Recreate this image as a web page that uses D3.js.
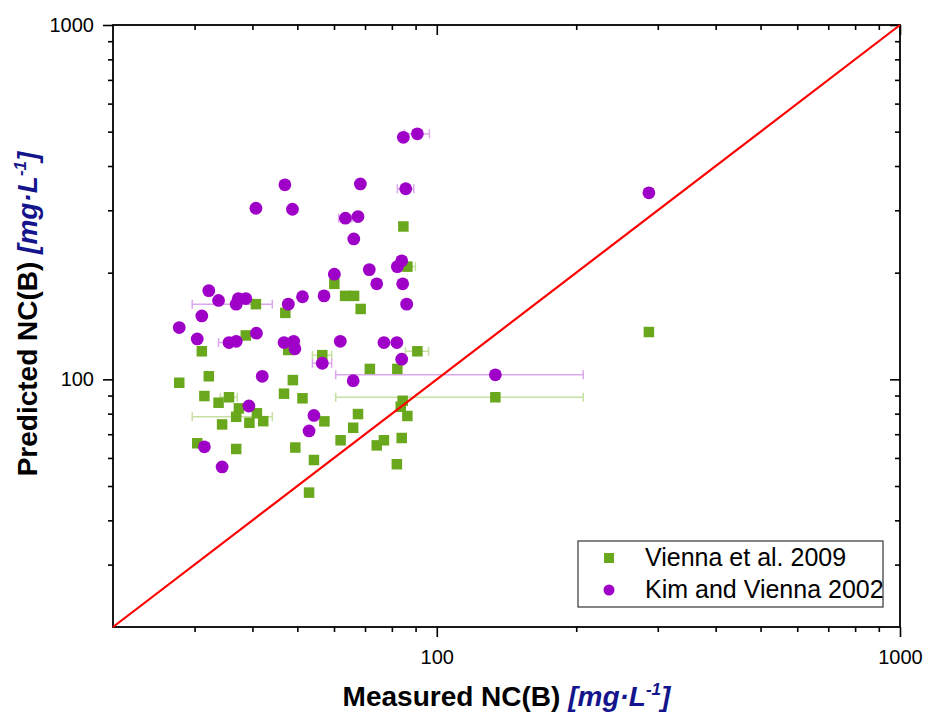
<!DOCTYPE html>
<html>
<head>
<meta charset="utf-8">
<script src="https://cdn.jsdelivr.net/npm/d3@7"></script>
<style>
  body { margin: 0; background: #fff; }
  svg { display: block; font-family: "Liberation Sans", Arial, sans-serif; }
</style>
</head>
<body>
<svg id="chart" width="927" height="713"></svg>
<script>
// Vienna et al. 2009: measured vs predicted NC(B), mg/L
const viennaMeasured = [40.7, 47.1, 31.1, 38.7, 47.8, 27.8, 32.2, 48.9, 46.8, 51.3, 31.5, 33.8, 35.6, 37.4, 36.9, 40.9,
  34.4, 39.4, 42.2, 30.4, 36.9, 49.5, 54.3, 60.1, 63.4, 66.3, 68.5, 90.8, 56.6, 71.7, 82.2, 84.4, 83.6, 86.4, 57.2,
  67.6, 66.0, 62.0, 76.9, 74.2, 84.0, 82.0, 53.0, 84.7, 86.4, 133.8, 287];
const viennaPredicted = [163, 154, 120, 133, 121, 97.8, 102, 99.5, 91.1, 88.4, 89.7, 85.9, 89.0, 82.8, 78.4, 80.2,
  74.6, 75.4, 76.2, 66.0, 63.6, 64.2, 59.2, 186, 172, 172, 158, 120, 117, 107, 107, 87.0, 83.7, 78.8, 76.1,
  79.8, 73.0, 67.3, 67.3, 65.1, 68.3, 57.6, 47.9, 270, 208, 89.0, 136];
const viennaErr = [0, 0, 0, 0, 0, 0, 0, 0, 0, 0, 0, 0, 1.5, 0, 7.25, 0,
  0, 0, 0, 0, 0, 0, 0, 0, 0, 0, 0, 5.2, 2.7, 0, 0, 0, 0, 0, 0,
  0, 0, 0, 0, 0, 0, 0, 0, 0, 3.5, 73.3, 0];

// Kim and Vienna 2002
const kimMeasured = [47.0, 40.7, 48.8, 32.2, 33.8, 37.3, 38.7, 36.9, 51.3, 47.8, 31.1, 27.8, 30.4, 40.8, 35.6, 36.9,
  46.8, 49.1, 49.4, 42.0, 39.3, 54.3, 53.0, 31.5, 34.4, 57.1, 86.1, 61.9, 76.9, 82.0, 84.0, 56.6, 66.0, 133.8,
  287, 84.7, 90.8, 68.4, 85.7, 63.5, 67.6, 66.2, 84.0, 82.2, 71.5, 60.1, 74.2, 84.4];
const kimPredicted = [354, 304, 302, 178, 167, 169, 169, 163, 171, 163, 151, 140, 130, 135, 127, 128,
  127, 128, 122, 102, 84.1, 79.1, 71.5, 64.5, 56.6, 172, 163, 128, 127, 127, 114, 111, 99.1, 103,
  336, 482, 493, 356, 345, 285, 288, 249, 216, 208, 204, 198, 186, 186];
const kimErr = [0, 0, 0, 0, 0, 0, 0, 7.25, 0, 0, 0, 0, 0, 0, 1.8, 0,
  0, 0, 0, 0, 0, 0, 0, 0, 0, 0, 0, 0, 0, 0, 0, 2.7, 0, 73.3,
  0, 0, 5.6, 0, 3.5, 2.1, 0, 0, 0, 0, 0, 0, 0, 0];

const majorTicks = [100, 1000];
const minorTicks = [30, 40, 50, 60, 70, 80, 90, 200, 300, 400, 500, 600, 700, 800, 900];
const axisDomain = [20, 1000];
const seriesNames = ["Vienna et al. 2009", "Kim and Vienna 2002"];

const GREEN = "#69a81c", PURPLE = "#9f00c8";
const GREEN_BAR = "#c6e0a2", PURPLE_BAR = "#dba8ec";

const svg = d3.select("#chart");
const plot = { left: 113, right: 900, top: 25, bottom: 627 };

const x = d3.scaleLog().domain(axisDomain).range([plot.left, plot.right]);
const y = d3.scaleLog().domain(axisDomain).range([plot.bottom, plot.top]);

// axes: outward ticks on left/bottom, inward on top/right
function styleAxis(g) {
  g.select(".domain").remove();
  g.selectAll(".tick line").attr("stroke", "#000").attr("stroke-width", 1.6);
  g.selectAll(".tick text").attr("fill", "#000").style("font-size", "20px")
    .style("font-family", "'Liberation Sans', Arial, sans-serif");
}
const fmt = d3.format("d");

svg.append("g").attr("transform", `translate(0,${plot.bottom})`)
  .call(d3.axisBottom(x).tickValues(majorTicks).tickSize(10).tickSizeOuter(0).tickPadding(13).tickFormat(fmt))
  .call(styleAxis);
svg.append("g").attr("transform", `translate(0,${plot.bottom})`)
  .call(d3.axisBottom(x).tickValues(minorTicks).tickSize(5).tickSizeOuter(0).tickFormat(""))
  .call(styleAxis);
svg.append("g").attr("transform", `translate(${plot.left},0)`)
  .call(d3.axisLeft(y).tickValues(majorTicks).tickSize(10).tickSizeOuter(0).tickPadding(9).tickFormat(fmt))
  .call(styleAxis);
svg.append("g").attr("transform", `translate(${plot.left},0)`)
  .call(d3.axisLeft(y).tickValues(minorTicks).tickSize(5).tickSizeOuter(0).tickFormat(""))
  .call(styleAxis);
svg.append("g").attr("transform", `translate(${plot.right},0)`)
  .call(d3.axisLeft(y).tickValues(majorTicks).tickSize(10).tickSizeOuter(0).tickFormat(""))
  .call(styleAxis);
svg.append("g").attr("transform", `translate(${plot.right},0)`)
  .call(d3.axisLeft(y).tickValues(minorTicks).tickSize(5).tickSizeOuter(0).tickFormat(""))
  .call(styleAxis);
svg.append("g").attr("transform", `translate(0,${plot.top})`)
  .call(d3.axisBottom(x).tickValues(majorTicks).tickSize(10).tickSizeOuter(0).tickFormat(""))
  .call(styleAxis);
svg.append("g").attr("transform", `translate(0,${plot.top})`)
  .call(d3.axisBottom(x).tickValues(minorTicks).tickSize(5).tickSizeOuter(0).tickFormat(""))
  .call(styleAxis);

// frame
svg.append("rect")
  .attr("x", plot.left).attr("y", plot.top)
  .attr("width", plot.right - plot.left).attr("height", plot.bottom - plot.top)
  .attr("fill", "none").attr("stroke", "#000").attr("stroke-width", 1.8);

// horizontal error bars
function errorBars(xs, ys, errs, color) {
  const g = svg.append("g").attr("stroke", color).attr("stroke-width", 1.5).attr("fill", "none");
  xs.forEach((v, i) => {
    const e = errs[i];
    if (!e) return;
    const yy = y(ys[i]), x0 = x(v - e), x1 = x(v + e);
    g.append("line").attr("x1", x0).attr("x2", x1).attr("y1", yy).attr("y2", yy);
    g.append("line").attr("x1", x0).attr("x2", x0).attr("y1", yy - 4.5).attr("y2", yy + 4.5);
    g.append("line").attr("x1", x1).attr("x2", x1).attr("y1", yy - 4.5).attr("y2", yy + 4.5);
  });
}
errorBars(viennaMeasured, viennaPredicted, viennaErr, GREEN_BAR);
errorBars(kimMeasured, kimPredicted, kimErr, PURPLE_BAR);

// markers
const SQ = 10.5, R = 6.4;
svg.append("g").selectAll("rect")
  .data(d3.zip(viennaMeasured, viennaPredicted))
  .join("rect")
  .attr("x", d => x(d[0]) - SQ / 2).attr("y", d => y(d[1]) - SQ / 2)
  .attr("width", SQ).attr("height", SQ).attr("fill", GREEN);
svg.append("g").selectAll("circle")
  .data(d3.zip(kimMeasured, kimPredicted))
  .join("circle")
  .attr("cx", d => x(d[0])).attr("cy", d => y(d[1])).attr("r", R).attr("fill", PURPLE);

// 1:1 line
svg.append("line")
  .attr("x1", x(axisDomain[0])).attr("y1", y(axisDomain[0]))
  .attr("x2", x(axisDomain[1])).attr("y2", y(axisDomain[1]))
  .attr("stroke", "#ff0000").attr("stroke-width", 2.2);

// legend
const lg = svg.append("g");
lg.append("rect").attr("x", 578).attr("y", 541).attr("width", 305).attr("height", 66)
  .attr("fill", "#fff").attr("stroke", "#444").attr("stroke-width", 1.3);
lg.append("rect").attr("x", 609 - 5).attr("y", 558 - 5).attr("width", 10).attr("height", 10).attr("fill", GREEN);
lg.append("circle").attr("cx", 609).attr("cy", 590).attr("r", 5.5).attr("fill", PURPLE);
lg.selectAll("text").data(seriesNames).join("text")
  .attr("x", 645).attr("y", (d, i) => 566 + i * 32)
  .style("font-size", "25px").attr("fill", "#000").text(d => d);

// axis titles: black label followed by a blue italic unit with superscript
const UNIT = "#14148c";
function axisTitle(sel, label) {
  sel.style("font-size", "28px").style("font-weight", "bold").attr("text-anchor", "middle");
  sel.append("tspan").attr("fill", "#000").text(label + " ");
  sel.append("tspan").attr("fill", UNIT).style("font-style", "italic").text("[mg·L");
  sel.append("tspan").attr("fill", UNIT).style("font-style", "italic").style("font-size", "17px").attr("dy", -11).text("-1");
  sel.append("tspan").attr("fill", UNIT).style("font-style", "italic").attr("dy", 11).text("]");
}
svg.append("text").attr("x", (plot.left + plot.right) / 2).attr("y", 706)
  .call(axisTitle, "Measured NC(B)");
svg.append("text")
  .attr("transform", `translate(37,314) rotate(-90)`)
  .call(axisTitle, "Predicted NC(B)");
</script>
</body>
</html>
